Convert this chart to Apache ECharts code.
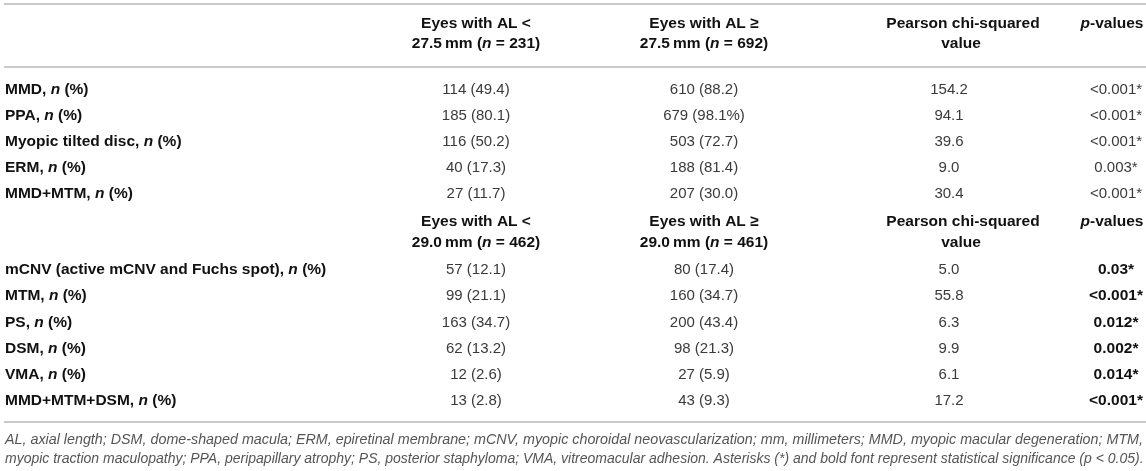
<!DOCTYPE html>
<html>
<head>
<meta charset="utf-8">
<script src="https://cdn.jsdelivr.net/npm/echarts@6/dist/echarts.min.js"></script>
<style>
html, body { margin: 0; padding: 0; background: #fff; }
#chart { width: 1146px; height: 471px; }
</style>
</head>
<body>
<div id="chart"></div>
<script>
// ---- table data ----
var cutoff1 = '27.5';
var groupN1 = [231, 692];
var rowNames1 = ['MMD', 'PPA', 'Myopic tilted disc', 'ERM', 'MMD+MTM'];
var lowCount1 = [114, 185, 116, 40, 27];
var lowPct1 = ['49.4', '80.1', '50.2', '17.3', '11.7'];
var highCount1 = [610, 679, 503, 188, 207];
var highPct1 = ['88.2', '98.1%', '72.7', '81.4', '30.0'];
var chiSq1 = ['154.2', '94.1', '39.6', '9.0', '30.4'];
var pValues1 = ['<0.001*', '<0.001*', '<0.001*', '0.003*', '<0.001*'];

var cutoff2 = '29.0';
var groupN2 = [462, 461];
var rowNames2 = ['mCNV (active mCNV and Fuchs spot)', 'MTM', 'PS', 'DSM', 'VMA', 'MMD+MTM+DSM'];
var lowCount2 = [57, 99, 163, 62, 12, 13];
var lowPct2 = ['12.1', '21.1', '34.7', '13.2', '2.6', '2.8'];
var highCount2 = [80, 160, 200, 98, 27, 43];
var highPct2 = ['17.4', '34.7', '43.4', '21.3', '5.9', '9.3'];
var chiSq2 = ['5.0', '55.8', '6.3', '9.9', '6.1', '17.2'];
var pValues2 = ['0.03*', '<0.001*', '0.012*', '0.002*', '0.014*', '<0.001*'];

var footnotes = [
	'AL, axial length; DSM, dome-shaped macula; ERM, epiretinal membrane; mCNV, myopic choroidal neovascularization; mm, millimeters; MMD, myopic macular degeneration; MTM,',
	'myopic traction maculopathy; PPA, peripapillary atrophy; PS, posterior staphyloma; VMA, vitreomacular adhesion. Asterisks (*) and bold font represent statistical significance (p < 0.05).'
];

// ---- layout (page frame in px) ----
var FONT = '"Liberation Sans", Arial, Helvetica, sans-serif';
var colLabel = 5, colLow = 476, colHigh = 704, colChi = 949, colChiHead = 963, colP = 1116, colPHead = 1112;
var ruleRows = [4, 67, 422];
var head1 = [24, 44], head2 = [222, 243];
var body1Top = 90, body1Step = 26;
var body2Top = 270, body2Step = 26.2;
var footRows = [440, 459];
var footSize = 14, footWidth = 1138;

var rich = {
	b: { fontFamily: FONT, fontSize: 15.5, fontWeight: 'bold', fill: '#111', color: '#111' },
	bi: { fontFamily: FONT, fontSize: 15.5, fontWeight: 'bold', fontStyle: 'italic', fill: '#111', color: '#111' }
};

var cells = [];
function addCell(x, y, text, kind, align){
	cells.push({ x: x, y: y, text: text, kind: kind, align: align || 'center' });
}

function addHeader(rows, cut, ns){
	addCell(colLow, rows[0], '{b|Eyes with AL <}', 'head');
	addCell(colLow, rows[1], '{b|' + cut + '\u2009mm (}{bi|n}{b| = ' + ns[0] + ')}', 'head');
	addCell(colHigh, rows[0], '{b|Eyes with AL \u2265}', 'head');
	addCell(colHigh, rows[1], '{b|' + cut + '\u2009mm (}{bi|n}{b| = ' + ns[1] + ')}', 'head');
	addCell(colChiHead, rows[0], '{b|Pearson chi-squared}', 'head');
	addCell(colChiHead - 2, rows[1], '{b|value}', 'head');
	addCell(colPHead, rows[0], '{bi|p}{b|-values}', 'head');
}

function addBody(top, step, names, lc, lp, hc, hp, chi, pv, boldP){
	names.forEach(function(name, i){
		var y = top + step * i;
		addCell(colLabel, y, '{b|' + name + ', }{bi|n}{b| (%)}', 'head', 'left');
		addCell(colLow, y, lc[i] + ' (' + lp[i] + ')', 'data');
		addCell(colHigh, y, hc[i] + ' (' + hp[i] + ')', 'data');
		addCell(colChi, y, chi[i], 'data');
		addCell(colP, y, boldP ? '{b|' + pv[i] + '}' : pv[i], boldP ? 'head' : 'data');
	});
}

addHeader(head1, cutoff1, groupN1);
addBody(body1Top, body1Step, rowNames1, lowCount1, lowPct1, highCount1, highPct1, chiSq1, pValues1, false);
addHeader(head2, cutoff2, groupN2);
addBody(body2Top, body2Step, rowNames2, lowCount2, lowPct2, highCount2, highPct2, chiSq2, pValues2, true);
footnotes.forEach(function(t, i){
	addCell(colLabel, footRows[i], t, 'foot', 'left');
});

// justified paragraph: every line but the last is stretched to the full width
var measureCtx = document.createElement('canvas').getContext('2d');
measureCtx.font = 'italic ' + footSize + 'px ' + FONT;
function footStretch(text, isLast){
	var w = measureCtx.measureText(text).width;
	if(isLast || w >= footWidth) {
		return 1;
	}
	return footWidth / w;
}

function renderCell(params, api){
	var c = cells[params.dataIndex];
	var pt = api.coord([api.value(0), api.value(1)]);
	var el = { type: 'text', x: pt[0], y: pt[1] };
	var style = {
		text: c.text,
		fontFamily: FONT,
		fontSize: 15,
		fill: '#3a3a3a',
		align: c.align,
		verticalAlign: 'middle',
		rich: rich
	};
	if(c.kind == 'foot') {
		style.fontSize = footSize;
		style.fontStyle = 'italic';
		style.fill = '#555';
		var last = footRows.indexOf(api.value(1)) == footRows.length - 1;
		el.scaleX = footStretch(c.text, last);
	}
	el.style = style;
	return el;
}

function renderRule(params, api){
	var a = api.coord([4, api.value(0)]);
	var b = api.coord([1146, api.value(0)]);
	return {
		type: 'line',
		shape: { x1: a[0], y1: a[1], x2: b[0], y2: b[1] },
		style: { stroke: '#b8b8b8', lineWidth: 1.6 }
	};
}

var chart = echarts.init(document.getElementById('chart'), null, { renderer: 'canvas' });
chart.setOption({
	backgroundColor: '#ffffff',
	animation: false,
	grid: { left: 0, right: 0, top: 0, bottom: 0 },
	xAxis: { type: 'value', min: 0, max: 1146, show: false },
	yAxis: { type: 'value', min: 0, max: 471, inverse: true, show: false },
	series: [{
		type: 'custom',
		renderItem: renderRule,
		data: ruleRows.map(function(y){ return [y]; }),
		silent: true
	}, {
		type: 'custom',
		renderItem: renderCell,
		data: cells.map(function(c){ return [c.x, c.y]; }),
		silent: true
	}]
});
</script>
</body>
</html>
